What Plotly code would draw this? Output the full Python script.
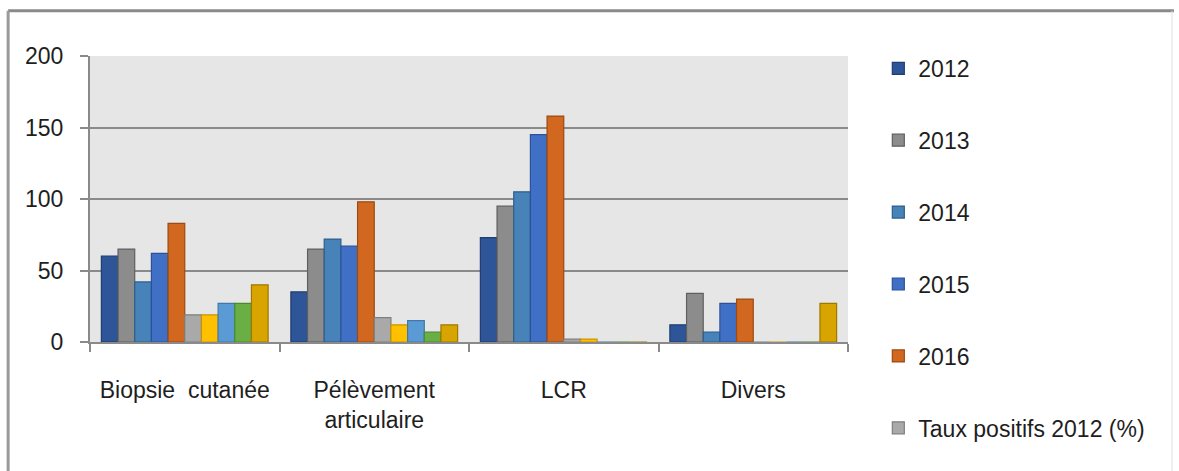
import plotly.graph_objects as go

# Categories of samples
categories = ["Biopsie  cutanée", "Pélèvement<br>articulaire", "LCR", "Divers"]

# Number of samples per year
n_2012 = [60, 35, 73, 12]
n_2013 = [65, 65, 95, 34]
n_2014 = [42, 72, 105, 7]
n_2015 = [62, 67, 145, 27]
n_2016 = [83, 98, 158, 30]

# Positive rates per year (%)
taux_2012 = [19, 17, 2, 0]
taux_2013 = [19, 12, 2, 0]
taux_2014 = [27, 15, 0, 0]
taux_2015 = [27, 7, 0, 0]
taux_2016 = [40, 12, 0, 27]

# name, values, fill, outline, legend group
series = [
    ("2012", n_2012, "#2e5597", "#1f3d73", "g2012"),
    ("2013", n_2013, "#8c8c8c", "#5f5f5f", "g2013"),
    ("2014", n_2014, "#4782b8", "#2d5f8c", "g2014"),
    ("2015", n_2015, "#4070c6", "#2c5199", "g2015"),
    ("2016", n_2016, "#d2681f", "#9a4a12", "g2016"),
    ("Taux positifs 2012 (%)", taux_2012, "#a9a9a9", "#7f7f7f", "taux"),
    ("Taux positifs 2013 (%)", taux_2013, "#ffc000", "#c99400", "taux"),
    ("Taux positifs 2014 (%)", taux_2014, "#5b9bd5", "#3f78ad", "taux"),
    ("Taux positifs 2015 (%)", taux_2015, "#6aaf45", "#4a8a2c", "taux"),
    ("Taux positifs 2016 (%)", taux_2016, "#d8a400", "#a07800", "taux"),
]

FONT = "Liberation Sans, Arial, sans-serif"

fig = go.Figure()
for i, (name, vals, fill, edge, group) in enumerate(series):
    fig.add_trace(go.Bar(
        x=categories, y=vals, name=name,
        marker=dict(color=fill, line=dict(color=edge, width=1.2)),
        showlegend=i < 6, legendgroup=group,
    ))

fig.update_layout(
    width=1179, height=471,
    margin=dict(l=90, r=331, t=56, b=129, autoexpand=False),
    paper_bgcolor="white",
    plot_bgcolor="#e6e6e6",
    barmode="group",
    bargap=0.12,
    bargroupgap=0,
    font=dict(family=FONT, size=23, color="#1e1e1e"),
    legend=dict(
        x=1.04, y=1.032, xanchor="left", yanchor="top",
        traceorder="grouped", tracegroupgap=39,
        font=dict(family=FONT, size=23, color="#1e1e1e"),
        itemwidth=30, bgcolor="rgba(0,0,0,0)", maxheight=1,
    ),
    xaxis=dict(
        tickson="boundaries", ticks="outside", ticklen=8, tickcolor="#8a8a8a",
        tickwidth=2, showline=True, linecolor="#8a8a8a", linewidth=2,
        showgrid=False, tickangle=0, ticklabelstandoff=26,
    ),
    yaxis=dict(
        range=[0, 200], dtick=50, ticks="outside", ticklen=8,
        tickcolor="#8a8a8a", tickwidth=2, showline=True, linecolor="#8a8a8a",
        linewidth=2, gridcolor="#8a8a8a", gridwidth=2, zeroline=False,
        ticklabelstandoff=12,
    ),
)

# Frame around the chart area
frame = [
    dict(x0=-0.108, x1=1.43, y0=1.158, y1=1.158, color="#8a8a8a", width=3),
    dict(x0=-0.108, x1=-0.108, y0=1.158, y1=-0.5, color="#9a9a9a", width=3),
    dict(x0=1.4275, x1=1.4275, y0=1.158, y1=-0.5, color="#e0e0e0", width=1),
]
for f in frame:
    fig.add_shape(type="line", xref="paper", yref="paper",
                  x0=f["x0"], x1=f["x1"], y0=f["y0"], y1=f["y1"],
                  line=dict(color=f["color"], width=f["width"]))

fig.write_html("out.html")
